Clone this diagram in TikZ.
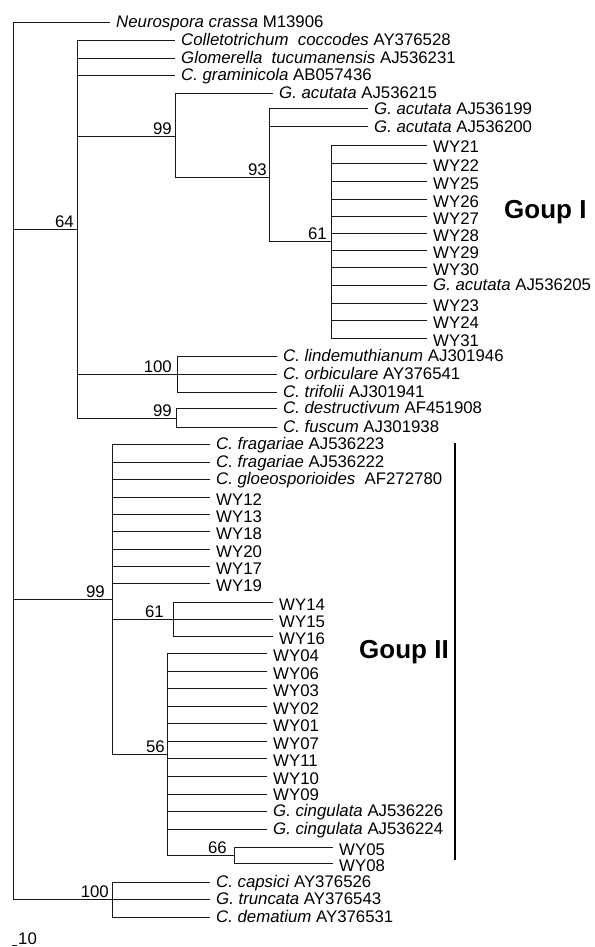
\documentclass[tikz,border=0pt]{standalone}
\usepackage{fontspec}
\setmainfont{Liberation Sans}
\newcommand{\tleaf}[6]{%
  \coordinate (#1a) at (#2,#4);
  \coordinate (#1) at (#3,#4);
  \draw[br] (#1a) -- (#1);
  \node[lbl] (#1t) at ([xshift=6pt,yshift=-#5pt]#1) {#6};
}
\newcommand{\tinode}[8]{%
  \coordinate (#1p) at (#2,#4);
  \coordinate (#1) at (#3,#4);
  \coordinate (#1top) at (#3,#5);
  \coordinate (#1bot) at (#3,#6);
  \draw[br] (#1p) -- (#1);
  \draw[br] (#1top) -- (#1bot);
  \node[bs] (#1l) at ([xshift=-#8pt,yshift=1pt]#1) {#7};
}
\begin{document}
\begin{tikzpicture}[x=1pt,y=-1pt,
  br/.style={line width=1pt, draw=black!90},
  lbl/.style={font=\fontsize{16.8}{18}\selectfont, inner sep=0pt, anchor=base west},
  bs/.style={font=\fontsize{16.8}{18}\selectfont, inner sep=0pt, anchor=south east},
  grp/.style={font=\fontsize{26}{30}\selectfont\bfseries, inner sep=0pt, anchor=west}]
\useasboundingbox (0,0) rectangle (594,947);
% root
\coordinate (roottop) at (13,23);
\coordinate (rootbot) at (13,899);
\draw[br] (roottop) -- (rootbot);
\tleaf{neu}{13}{110}{23}{5}{\textit{Neurospora crassa} M13906}
% node 64
\tinode{nA}{13}{77}{229}{41}{418}{64}{3}
\tleaf{coc}{77}{175}{41}{5}{\textit{Colletotrichum}\ \ \textit{coccodes} AY376528}
\tleaf{glo}{77}{175}{59}{5}{\textit{Glomerella}\ \ \textit{tucumanensis} AJ536231}
\tleaf{gra}{77}{175}{76}{5}{\textit{C. graminicola} AB057436}
% node 99
\tinode{nB}{77}{175}{136}{94}{177}{99}{3}
\tleaf{a215}{175}{273}{94}{5}{\textit{G. acutata} AJ536215}
% node 93
\tinode{nC}{175}{269}{177}{109}{241}{93}{2}
\tleaf{a199}{269}{368}{109}{5}{\textit{G. acutata} AJ536199}
\tleaf{a200}{269}{368}{127}{5}{\textit{G. acutata} AJ536200}
% node 61
\tinode{nD}{269}{331}{241}{145}{338}{61}{4}
\foreach \n/\y in {21/145,22/163,25/181,26/199,27/216,28/233,29/250,30/267,23/303,24/320,31/338}{
  \tleaf{wy\n}{331}{427}{\y}{8}{WY\n}
}
\tleaf{a205}{331}{427}{285}{5}{\textit{G. acutata} AJ536205}
% node 100
\tinode{nE}{77}{177}{374}{356}{392}{100}{5}
\tleaf{lin}{177}{277}{356}{5}{\textit{C. lindemuthianum} AJ301946}
\tleaf{orb}{177}{277}{374}{5}{\textit{C. orbiculare} AY376541}
\tleaf{tri}{177}{277}{392}{5}{\textit{C. trifolii} AJ301941}
% node 99 (destructivum)
\tinode{nF}{77}{176}{418}{408}{427}{99}{4}
\tleaf{des}{176}{277}{408}{5}{\textit{C. destructivum} AF451908}
\tleaf{fus}{176}{277}{427}{5}{\textit{C. fuscum} AJ301938}
% node 99 (group II)
\tinode{nG}{13}{112}{599}{444}{754}{99}{7}
\tleaf{f223}{112}{210}{444}{5}{\textit{C. fragariae} AJ536223}
\tleaf{f222}{112}{210}{462}{5}{\textit{C. fragariae} AJ536222}
\tleaf{glp}{112}{210}{479}{5}{\textit{C. gloeosporioides}\ \ AF272780}
\foreach \n/\y in {12/497,13/514,18/531,20/549,17/566,19/583}{
  \tleaf{wy\n}{112}{210}{\y}{8}{WY\n}
}
% node 61 (WY14-16)
\tinode{nH}{112}{173}{619}{602}{636}{61}{9}
\foreach \n/\y in {14/602,15/619,16/636}{
  \tleaf{wy\n}{173}{273}{\y}{8}{WY\n}
}
% node 56
\tinode{nI}{112}{167}{754}{653}{855}{56}{2}
\foreach \n/\y in {04/653,06/671,03/688,02/706,01/723,07/741,11/758,10/776}{
  \tleaf{wy\n}{167}{267}{\y}{8}{WY\n}
}
\tleaf{wy09}{167}{267}{794}{6.5}{WY09}
\tleaf{c226}{167}{267}{811}{5.5}{\textit{G. cingulata} AJ536226}
\tleaf{c224}{167}{267}{829}{5}{\textit{G. cingulata} AJ536224}
% node 66
\tinode{nJ}{167}{234}{855}{847}{863}{66}{7}
\tleaf{wy05}{234}{333}{847}{8}{WY05}
\tleaf{wy08}{234}{333}{863}{8}{WY08}
% node 100 (capsici)
\tinode{nK}{13}{112}{899}{882}{917}{100}{3}
\tleaf{cap}{112}{210}{882}{5}{\textit{C. capsici} AY376526}
\tleaf{tru}{112}{210}{899}{5}{\textit{G. truncata} AY376543}
\tleaf{dem}{112}{210}{917}{5}{\textit{C. dematium} AY376531}
% group labels
\node[grp] (g1) at (504,212) {Goup I};
\coordinate (gbt) at (455,443);
\coordinate (gbb) at (455,860);
\draw[line width=2pt] (gbt) -- (gbb);
\node[grp] (g2) at (359,652) {Goup II};
% scale bar
\coordinate (sba) at (12,945);
\coordinate (sbb) at (17,945);
\draw[br] (sba) -- (sbb);
\node[lbl] (sbt) at (18,944) {10};
\end{tikzpicture}
\end{document}
